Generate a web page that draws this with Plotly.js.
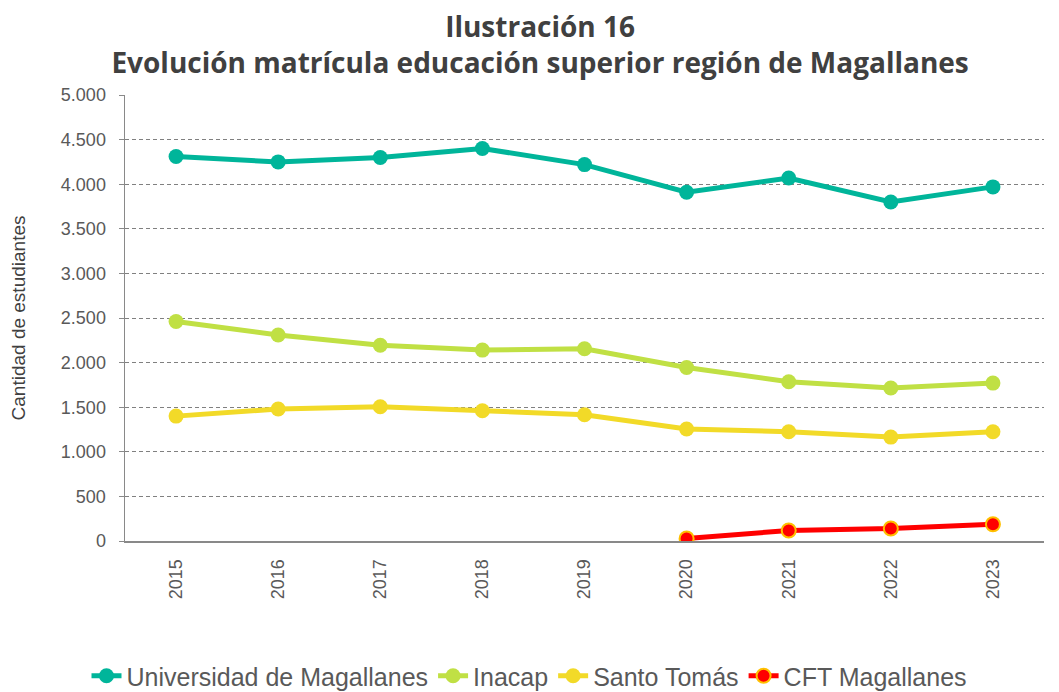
<!DOCTYPE html>
<html><head><meta charset="utf-8">
<script src="https://cdn.plot.ly/plotly-3.0.1.min.js"></script>
<style>html,body{margin:0;padding:0;background:#fff;}#chart{width:1059px;height:692px;}</style>
</head><body><div id="chart"></div>
<script>
const years = ['2015','2016','2017','2018','2019','2020','2021','2022','2023'];
const umag = [4310, 4250, 4300, 4400, 4220, 3910, 4070, 3800, 3970];
const inacap = [2460, 2310, 2195, 2140, 2155, 1945, 1785, 1715, 1770];
const santoTomas = [1400, 1480, 1505, 1460, 1415, 1255, 1225, 1165, 1225];
const cftYears = ['2020','2021','2022','2023'];
const cft = [28, 118, 140, 188];
const yTicks = [0,500,1000,1500,2000,2500,3000,3500,4000,4500,5000];

const traces = [
  {x: years, y: umag, name: 'Universidad de Magallanes', mode: 'lines+markers',
   line: {color: '#00B59A', width: 5}, marker: {color: '#00B59A', size: 15}},
  {x: years, y: inacap, name: 'Inacap', mode: 'lines+markers',
   line: {color: '#C0E044', width: 5}, marker: {color: '#C0E044', size: 15}},
  {x: years, y: santoTomas, name: 'Santo Tomás', mode: 'lines+markers',
   line: {color: '#F2DA28', width: 5}, marker: {color: '#F2DA28', size: 15}},
  {x: cftYears, y: cft, name: 'CFT Magallanes', mode: 'lines+markers',
   line: {color: '#FF0000', width: 5}, marker: {color: '#FF0000', size: 14, line: {color: '#FFC000', width: 2}}}
];

const tickFont = {family: 'Liberation Sans, Arial', size: 18, color: '#595959'};
const layout = {
  width: 1059, height: 692,
  margin: {l: 125, r: 15, t: 95, b: 151, autoexpand: false},
  paper_bgcolor: '#fff', plot_bgcolor: '#fff',
  separators: ',.',
  title: {text: 'Ilustración 16<br>Evolución matrícula educación superior región de Magallanes',
    font: {family: 'Open Sans', size: 28, color: '#404040', weight: 'bold'},
    x: 0.51, xanchor: 'center', xref: 'container', yref: 'container', y: 1 - 37/692, yanchor: 'middle',
    automargin: false},
  xaxis: {type: 'category', categoryorder: 'array', categoryarray: years,
    tickangle: -90, tickfont: tickFont, ticklabelstandoff: 9,
    showgrid: false, showline: true, linecolor: '#898989', linewidth: 2,
    ticks: '', range: [-0.5, 8.5], zeroline: false, automargin: false},
  yaxis: {range: [0, 5000], tickvals: yTicks, tickformat: ',d',
    tickfont: tickFont, ticklabelstandoff: 9,
    showgrid: true, gridcolor: '#808080', griddash: '4px,3px', gridwidth: 1,
    showline: true, linecolor: '#898989', linewidth: 1.5, zeroline: false,
    ticks: 'outside', ticklen: 5, tickcolor: '#898989', automargin: false,
    title: {text: 'Cantidad de estudiantes', font: {family: 'Liberation Sans, Arial', size: 19, color: '#404040'}, standoff: 30}},
  legend: {orientation: 'h', x: 0.5, xref: 'container', xanchor: 'center', yref: 'container', y: 1 - 676/692, yanchor: 'middle',
    font: {family: 'Liberation Sans, Arial', size: 25, color: '#595959'}, tracegroupgap: 0},
  showlegend: true
};
Plotly.newPlot('chart', traces, layout, {displayModeBar: false, staticPlot: true});
</script></body></html>
